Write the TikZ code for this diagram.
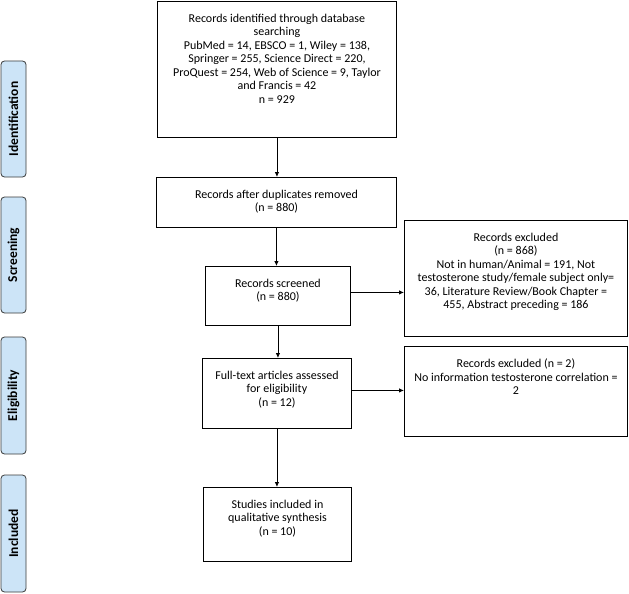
\documentclass[tikz,border=0pt]{standalone}
\usepackage{fontspec}
\setmainfont{Carlito}
\usetikzlibrary{arrows.meta}
\definecolor{sidefill}{HTML}{CCE4F7}
\definecolor{sidedraw}{HTML}{3A3A3A}
\newcommand{\bxt}[3]{\parbox[c][#2][t]{#1}{\vspace*{12.5pt}\centering #3\par}}
\begin{document}
\begin{tikzpicture}[x=1pt,y=-1pt,
  mainbox/.style={draw=black, line width=0.9pt, inner sep=0pt, anchor=north west,
    font=\fontsize{12}{13.5}\selectfont},
  sidebox/.style={draw=sidedraw, fill=sidefill, line width=0.8pt, rounded corners=3.5pt,
    rotate=90, minimum height=25pt, inner sep=0pt,
    font=\bfseries\fontsize{13.5}{15}\selectfont},
  arr/.style={draw=black, line width=0.8pt, -{Latex[length=5pt,width=4.5pt]}}]
\useasboundingbox (0,0) rectangle (629,594);
% side labels
\node[sidebox, minimum width=116pt] (sid) at (13.5,119) {Identification};
\node[sidebox, minimum width=116pt] (ssc) at (13.5,255) {Screening};
\node[sidebox, minimum width=117pt] (sel) at (13.5,395.5) {Eligibility};
\node[sidebox, minimum width=117pt] (sin) at (13.5,533.5) {Included};
% main boxes
\node[mainbox] (top) at (157,1) {\bxt{239pt}{136pt}{Records identified through database\\ searching\\ PubMed = 14, EBSCO = 1, Wiley = 138,\\ Springer = 255, Science Direct = 220,\\ ProQuest = 254, Web of Science = 9, Taylor\\ and Francis = 42\\ n = 929}};
\node[mainbox] (dup) at (156,177) {\bxt{240pt}{50pt}{Records after duplicates removed\\ (n = 880)}};
\node[mainbox] (scr) at (205,266) {\bxt{145pt}{59pt}{Records screened\\ (n = 880)}};
\node[mainbox] (ex1) at (404,220) {\bxt{223pt}{116pt}{Records excluded\\ (n = 868)\\ Not in human/Animal = 191, Not\\ testosterone study/female subject only=\\ 36, Literature Review/Book Chapter =\\ 455, Abstract preceding = 186}};
\node[mainbox] (ex2) at (404,346) {\bxt{223pt}{90pt}{Records excluded (n = 2)\\ No information testosterone correlation =\\ 2}};
\node[mainbox] (ft) at (202,358) {\bxt{149pt}{70pt}{Full-text articles assessed\\ for eligibility\\ (n = 12)}};
\node[mainbox] (st) at (203,487) {\bxt{148pt}{74pt}{Studies included in\\ qualitative synthesis\\ (n = 10)}};
% connectors
\draw[arr] (top.south) -- (top.south |- dup.north);
\draw[arr] (dup.south) -- (dup.south |- scr.north);
\draw[arr] (scr.south) -- (scr.south |- ft.north);
\draw[arr] (ft.south) -- (ft.south |- st.north);
\draw[arr] ([yshift=3.5pt]scr.east) -- ([yshift=3.5pt]scr.east -| ex1.west);
\draw[arr] ([yshift=3pt]ft.east) -- ([yshift=3pt]ft.east -| ex2.west);
\end{tikzpicture}
\end{document}
